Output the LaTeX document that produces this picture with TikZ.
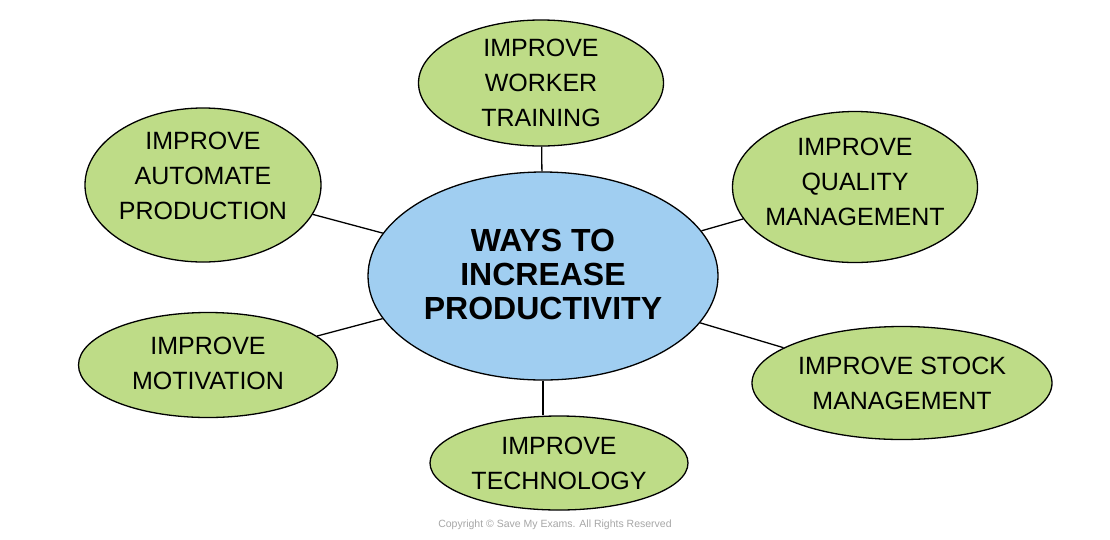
\documentclass[tikz,border=0pt]{standalone}
\usepackage{fontspec}
\setmainfont{Liberation Sans}
\usetikzlibrary{shapes.geometric}

\definecolor{leafgreen}{RGB}{190,220,135}
\definecolor{hubblue}{RGB}{160,206,241}

\begin{document}
\begin{tikzpicture}[x=1pt, y=-1pt,
    bubble/.style={ellipse, draw=black, line width=1.3pt, fill=leafgreen, inner sep=-10pt, align=center,
        font=\fontsize{25}{35}\selectfont},
    hubble/.style={ellipse, draw=black, line width=1.3pt, fill=hubblue, inner sep=-6pt, align=center,
        font=\fontsize{32}{34}\selectfont\bfseries},
    link/.style={line width=1.3pt}]
    \useasboundingbox (0,0) rectangle (1110,539);

    \node[hubble, minimum width=350pt, minimum height=208pt, text depth=4pt] (hub) at (543,276) {WAYS TO\\INCREASE\\PRODUCTIVITY};

    \node[bubble, minimum width=245pt, minimum height=126pt] (training) at (541,83) {IMPROVE\\WORKER\\TRAINING};
    \node[bubble, minimum width=236pt, minimum height=154pt, text depth=18pt] (automate) at (203,185) {IMPROVE\\AUTOMATE\\PRODUCTION};
    \node[bubble, minimum width=245pt, minimum height=151pt, text depth=10pt] (quality) at (855,187) {IMPROVE\\QUALITY\\MANAGEMENT};
    \node[bubble, minimum width=259pt, minimum height=105pt, text depth=4pt] (motivation) at (208,365) {IMPROVE\\MOTIVATION};
    \node[bubble, minimum width=300pt, minimum height=113pt] (stock) at (902,383) {IMPROVE STOCK\\MANAGEMENT};
    \node[bubble, minimum width=258pt, minimum height=94pt] (technology) at (559,463) {IMPROVE\\TECHNOLOGY};

    \draw[link] (hub) -- (training);
    \draw[link] (hub) -- (automate);
    \draw[link] (hub) -- (quality);
    \draw[link] (hub) -- (motivation);
    \draw[link] (hub) -- (stock);
    \draw[link] (hub.south) -- (hub.south |- technology.north);

    \node[text=black!35, font=\fontsize{10.5}{12}\selectfont] (copy) at (555,525) {Copyright © Save My Exams. All Rights Reserved};
\end{tikzpicture}
\end{document}
